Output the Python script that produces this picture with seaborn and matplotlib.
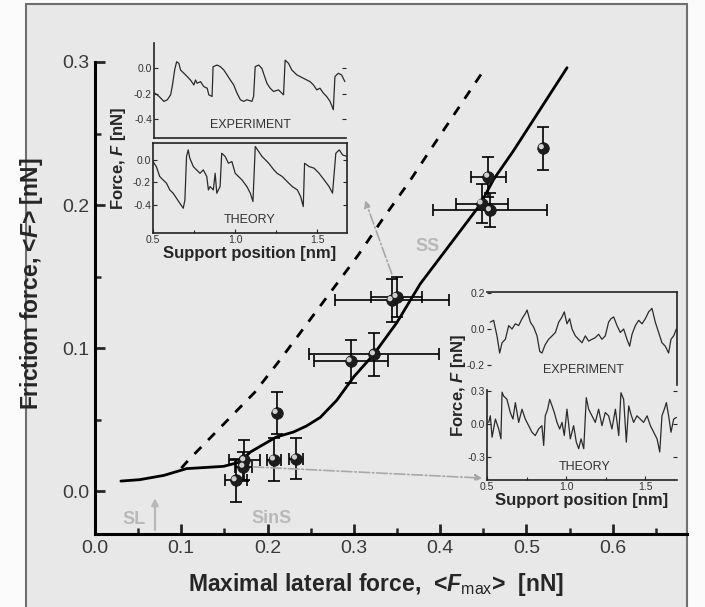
import numpy as np
import pandas as pd
import matplotlib
matplotlib.use("Agg")
import matplotlib.pyplot as plt
from matplotlib.patches import Rectangle
from matplotlib import transforms
import seaborn as sns

# ---------------- data ----------------
# measured friction points: maximal lateral force vs mean friction force (nN)
fmax = [0.163, 0.172, 0.173, 0.2075, 0.2105, 0.233, 0.2963, 0.3233, 0.3437, 0.3495, 0.448, 0.4577, 0.4557, 0.519]
ffric = [0.0075, 0.017, 0.0215, 0.022, 0.0546, 0.0227, 0.0907, 0.0956, 0.1334, 0.1357, 0.201, 0.1963, 0.2198, 0.2397]
fmax_err = [0.0126, 0.010, 0.018, 0.008, 0.0, 0.0085, 0.043, 0.075, 0.066, 0.030, 0.030, 0.066, 0.020, 0.0]
ffric_err = [0.015, 0.010, 0.014, 0.015, 0.015, 0.0145, 0.015, 0.015, 0.015, 0.014, 0.0135, 0.012, 0.014, 0.015]

# theory curve (solid)
theory_x = [0.03, 0.052, 0.08, 0.106, 0.149, 0.168, 0.18, 0.21, 0.23, 0.245, 0.261, 0.28, 0.30, 0.323, 0.35, 0.377,
            0.446, 0.462, 0.485, 0.547]
theory_y = [0.007, 0.008, 0.011, 0.0157, 0.0173, 0.0203, 0.0273, 0.0378, 0.0413, 0.0455, 0.0515, 0.0634, 0.080,
            0.0956, 0.118, 0.145, 0.200, 0.218, 0.238, 0.296]

# dashed reference curve
dashed_x = [0.100, 0.108, 0.140, 0.185, 0.214, 0.250, 0.305, 0.332, 0.365, 0.388, 0.448]
dashed_y = [0.016, 0.0215, 0.0412, 0.069, 0.0914, 0.1205, 0.165, 0.189, 0.217, 0.238, 0.292]

# stick-slip traces (support position nm, force nN)
ss_exp_x = [0.506, 0.531, 0.561, 0.582, 0.602, 0.612, 0.627, 0.639, 0.653, 0.663, 0.684, 0.704, 0.724, 0.745,
            0.755, 0.765, 0.786, 0.806, 0.827, 0.837, 0.857, 0.863, 0.888, 0.908, 0.929, 0.949, 0.969, 0.990,
            1.010, 1.031, 1.051, 1.071, 1.102, 1.112, 1.122, 1.143, 1.163, 1.173, 1.194, 1.214, 1.235, 1.265,
            1.296, 1.306, 1.327, 1.347, 1.378, 1.398, 1.439, 1.459, 1.480, 1.500, 1.520, 1.541, 1.561, 1.582,
            1.602, 1.612, 1.633, 1.653, 1.673]
ss_exp_y = [-0.196, -0.222, -0.261, -0.248, -0.209, -0.144, -0.013, 0.052, 0.039, -0.013, -0.039, -0.065, -0.092,
            -0.131, -0.092, -0.118, -0.105, -0.144, -0.157, -0.209, -0.222, 0.013, 0.026, 0.013, -0.013, -0.052,
            -0.092, -0.131, -0.196, -0.248, -0.261, -0.248, -0.261, -0.222, 0.013, 0.026, 0.000, -0.039, -0.118,
            -0.157, -0.183, -0.170, -0.209, 0.065, 0.039, -0.013, -0.052, -0.065, -0.092, -0.105, -0.131, -0.170,
            -0.157, -0.196, -0.222, -0.261, -0.327, -0.065, -0.039, -0.052, -0.105]
ss_th_x = [0.500, 0.520, 0.541, 0.561, 0.582, 0.602, 0.622, 0.643, 0.663, 0.684, 0.694, 0.704, 0.714, 0.724,
           0.745, 0.765, 0.786, 0.806, 0.827, 0.837, 0.847, 0.867, 0.878, 0.888, 0.908, 0.918, 0.939, 0.959,
           0.980, 1.000, 1.020, 1.041, 1.071, 1.092, 1.108, 1.122, 1.143, 1.163, 1.184, 1.204, 1.235, 1.255,
           1.286, 1.316, 1.347, 1.378, 1.398, 1.414, 1.422, 1.449, 1.480, 1.510, 1.541, 1.571, 1.592, 1.612,
           1.633, 1.653, 1.680]
ss_th_y = [-0.015, -0.059, -0.148, -0.178, -0.207, -0.267, -0.296, -0.341, -0.385, -0.430, -0.356, 0.030, 0.089,
           0.015, -0.059, -0.089, -0.119, -0.089, -0.148, -0.267, -0.237, -0.267, -0.119, -0.296, -0.237, 0.059,
           0.030, -0.030, -0.015, -0.119, -0.148, -0.178, -0.237, -0.296, -0.370, 0.119, 0.074, 0.030, 0.000,
           -0.030, -0.089, -0.119, -0.148, -0.193, -0.237, -0.267, -0.326, -0.415, -0.030, -0.059, -0.074,
           -0.119, -0.178, -0.237, -0.296, 0.059, 0.089, 0.044, 0.030]

# smooth-sliding traces
sm_exp_x = [0.521, 0.542, 0.563, 0.580, 0.595, 0.616, 0.637, 0.658, 0.679, 0.700, 0.721, 0.742, 0.753, 0.774,
            0.795, 0.816, 0.833, 0.847, 0.868, 0.889, 0.911, 0.932, 0.953, 0.974, 0.988, 1.005, 1.022, 1.037,
            1.058, 1.079, 1.100, 1.121, 1.142, 1.163, 1.184, 1.205, 1.226, 1.247, 1.268, 1.283, 1.300, 1.321,
            1.342, 1.363, 1.384, 1.401, 1.416, 1.437, 1.458, 1.479, 1.500, 1.521, 1.542, 1.563, 1.584, 1.605,
            1.626, 1.647, 1.662, 1.679, 1.696]
sm_exp_y = [0.038, 0.048, -0.038, -0.133, -0.076, -0.057, 0.019, 0.000, 0.029, 0.019, 0.057, 0.086, 0.105, 0.038,
            0.010, -0.038, -0.124, -0.133, -0.086, -0.057, -0.038, -0.019, 0.038, 0.067, 0.095, 0.029, 0.057,
            0.000, -0.038, -0.057, -0.076, -0.038, -0.067, -0.057, -0.048, -0.029, -0.057, -0.038, 0.038, 0.057,
            0.067, 0.019, -0.019, 0.000, -0.057, -0.095, -0.029, 0.019, 0.048, 0.029, 0.057, 0.095, 0.114, 0.038,
            -0.019, -0.076, -0.095, -0.133, -0.057, -0.038, 0.000]
sm_th_x = [0.511, 0.521, 0.532, 0.553, 0.574, 0.588, 0.595, 0.605, 0.626, 0.647, 0.664, 0.679, 0.700, 0.721,
           0.742, 0.763, 0.784, 0.805, 0.826, 0.847, 0.858, 0.868, 0.883, 0.896, 0.911, 0.925, 0.942, 0.959,
           0.974, 0.988, 1.005, 1.026, 1.047, 1.064, 1.079, 1.094, 1.111, 1.127, 1.142, 1.163, 1.184, 1.205,
           1.226, 1.247, 1.268, 1.289, 1.311, 1.332, 1.346, 1.363, 1.380, 1.395, 1.409, 1.426, 1.447, 1.468,
           1.489, 1.511, 1.532, 1.553, 1.574, 1.591, 1.605, 1.620, 1.633, 1.647, 1.662, 1.679, 1.696]
sm_th_y = [0.015, 0.075, -0.120, 0.045, -0.045, -0.135, 0.290, 0.255, 0.225, 0.105, 0.045, 0.195, 0.015, 0.135,
           0.045, -0.015, -0.075, -0.105, -0.045, -0.015, -0.195, 0.075, 0.135, 0.225, 0.165, 0.105, 0.015,
           -0.045, 0.015, -0.105, 0.135, -0.135, -0.015, -0.165, -0.225, -0.135, -0.225, 0.240, 0.135, 0.075,
           0.015, 0.135, -0.015, 0.105, 0.075, -0.045, 0.135, -0.105, 0.285, 0.225, -0.165, 0.165, 0.090, 0.015,
           0.075, 0.045, 0.015, 0.075, -0.015, -0.075, -0.135, -0.255, 0.075, 0.135, 0.195, 0.075, -0.075,
           0.045, 0.060]

# ---------------- style ----------------
sns.set_theme(style="ticks")
plt.rcParams["font.family"] = ["Liberation Sans", "DejaVu Sans"]
plt.rcParams["mathtext.fontset"] = "custom"
plt.rcParams["mathtext.rm"] = "Liberation Sans"
plt.rcParams["mathtext.it"] = "Liberation Sans:italic:bold"
plt.rcParams["mathtext.bf"] = "Liberation Sans:bold"

BG = "#e8e8e8"
TICK_C = "#3a3a3a"
GRAY_TXT = "#b8b8b8"

fig = plt.figure(figsize=(7.05, 6.07), dpi=100)
fig.patch.set_facecolor("#fbfbfb")
frame = Rectangle((26 / 705, -0.02), (687 - 26) / 705, 1.0134, transform=fig.transFigure,
                  facecolor=BG, edgecolor="#707070", linewidth=1.5, zorder=-10)
fig.patches.append(frame)

# ---------------- main axes ----------------
ax = fig.add_axes([95 / 705, 1 - 534 / 607, 592 / 705, 472 / 607])
ax.set_facecolor("none")
ax.set_xlim(0.0, 0.686)
ax.set_ylim(-0.030, 0.30)
for s in ["top", "right"]:
    ax.spines[s].set_visible(False)
for s in ["left", "bottom"]:
    ax.spines[s].set_linewidth(2.2)
    ax.spines[s].set_color("black")
ax.set_xticks([0.0, 0.1, 0.2, 0.3, 0.4, 0.5, 0.6])
ax.set_yticks([0.0, 0.1, 0.2, 0.3])
ax.set_xticklabels(["0.0", "0.1", "0.2", "0.3", "0.4", "0.5", "0.6"])
ax.set_yticklabels(["0.0", "0.1", "0.2", "0.3"])
ax.set_xticks(np.arange(0.05, 0.686, 0.1), minor=True)
ax.set_yticks([0.05, 0.15, 0.25], minor=True)
ax.tick_params(which="major", direction="in", length=7, width=2, labelsize=14, labelcolor=TICK_C, pad=4)
ax.tick_params(which="minor", direction="in", length=4, width=1.8)

ax.set_xlabel(r"Maximal lateral force,  <$F_{\mathrm{max}}$>  [nN]", fontsize=16.5, fontweight="bold")
ax.set_ylabel(r"Friction force, <$F$> [nN]", fontsize=16.5, fontweight="bold")
ax.xaxis.set_label_coords(0.4755, -0.078)
ax.yaxis.set_label_coords(-0.085, 0.53)

sns.lineplot(x=dashed_x, y=dashed_y, ax=ax, color="black", lw=2.0, sort=False, estimator=None,
             linestyle=(0, (3.5, 3.5)))
sns.lineplot(x=theory_x, y=theory_y, ax=ax, color="black", lw=2.0, sort=False, estimator=None)

ax.errorbar(fmax, ffric, xerr=fmax_err, yerr=ffric_err, fmt="none", ecolor="black",
            elinewidth=1.2, capsize=4, capthick=1.2, zorder=3)
pts = pd.DataFrame({"fmax": fmax, "ffric": ffric})
sns.scatterplot(data=pts, x="fmax", y="ffric", ax=ax, s=70, color="#1c1c1c", edgecolor="#111111",
                linewidth=0.5, zorder=4)
hl = transforms.offset_copy(ax.transData, fig=fig, x=-1.6, y=1.6, units="dots")
sns.scatterplot(data=pts, x="fmax", y="ffric", ax=ax, s=14, color="#cfcfcf", edgecolor="none",
                linewidth=0, zorder=5, transform=hl)

# regime labels
ax.text(0.045, -0.020, "SL", color=GRAY_TXT, fontsize=13, fontweight="bold", ha="center", va="center")
ax.annotate("", xy=(0.0695, -0.003), xytext=(0.0695, -0.029),
            arrowprops=dict(arrowstyle="-|>", color=GRAY_TXT, lw=1.6, mutation_scale=10))
ax.text(0.205, -0.019, "SinS", color=GRAY_TXT, fontsize=13, fontweight="bold", ha="center", va="center")
ax.text(0.385, 0.171, "SS", color=GRAY_TXT, fontsize=13, fontweight="bold", ha="center", va="center")

# dash-dot pointers to the insets
ax.annotate("", xy=(0.312, 0.205), xytext=(0.345, 0.150),
            arrowprops=dict(arrowstyle="-|>", color="#a8a8a8", lw=1.2, linestyle="-.", mutation_scale=10))
ax.annotate("", xy=(0.452, 0.009), xytext=(0.18, 0.017),
            arrowprops=dict(arrowstyle="-|>", color="#a8a8a8", lw=1.2, linestyle="-.", mutation_scale=10))


def inset(rect, xlim, ylim, yticks):
    a = fig.add_axes(rect)
    a.set_facecolor("none")
    a.set_xlim(*xlim)
    a.set_ylim(*ylim)
    a.set_yticks(yticks)
    a.set_yticklabels([f"{v:.1f}" for v in yticks])
    a.tick_params(direction="in", length=3, width=0.8, labelsize=7.5, labelcolor="#333333", pad=1.5)
    for s in a.spines.values():
        s.set_linewidth(1.2)
        s.set_color("#222222")
    return a


TRACE = dict(color="#2a2a2a", lw=0.9, sort=False, estimator=None)

# ---------------- stick-slip inset (upper left) ----------------
a1 = inset([154 / 705, 1 - 138 / 607, 192 / 705, 95 / 607], (0.5, 1.68), (-0.55, 0.2), [0.0, -0.2, -0.4])
a1.spines["top"].set_visible(False)
a1.spines["right"].set_visible(False)
a1.set_xticks([])
a1.tick_params(axis="y", right=True)
sns.lineplot(x=ss_exp_x, y=ss_exp_y, ax=a1, **TRACE)
a1.text(0.5, 0.14, "EXPERIMENT", transform=a1.transAxes, ha="center", va="center", fontsize=9, color="#333333")

a2 = inset([153 / 705, 1 - 233 / 607, 194 / 705, 90 / 607], (0.5, 1.68), (-0.65, 0.15), [0.0, -0.2, -0.4])
a2.set_xticks([0.5, 1.0, 1.5])
a2.set_xticklabels(["0.5", "1.0", "1.5"])
a2.set_xticks([0.75, 1.25], minor=True)
a2.tick_params(which="minor", direction="in", length=2, width=0.8)
a2.tick_params(axis="y", right=True)
sns.lineplot(x=ss_th_x, y=ss_th_y, ax=a2, **TRACE)
a2.text(0.5, 0.14, "THEORY", transform=a2.transAxes, ha="center", va="center", fontsize=9, color="#333333")
a2.set_xlabel("Support position [nm]", fontsize=12, fontweight="bold", labelpad=1)
fig.text(118 / 705, 1 - 158 / 607, r"Force, $F$ [nN]", rotation=90, ha="center", va="center",
         fontsize=12, fontweight="bold")

# ---------------- smooth-sliding inset (lower right) ----------------
b1 = inset([487 / 705, 1 - 385 / 607, 190 / 705, 93 / 607], (0.5, 1.7), (-0.31, 0.205), [0.2, 0.0, -0.2])
b1.spines["bottom"].set_visible(False)
b1.spines["left"].set_visible(False)
b1.set_xticks([])
sns.lineplot(x=sm_exp_x, y=sm_exp_y, ax=b1, **TRACE)
b1.text(0.505, 0.16, "EXPERIMENT", transform=b1.transAxes, ha="center", va="center", fontsize=9, color="#333333")

b2 = inset([487 / 705, 1 - 480 / 607, 190 / 705, 90 / 607], (0.5, 1.7), (-0.51, 0.31), [0.3, 0.0, -0.3])
b2.spines["top"].set_visible(False)
b2.spines["right"].set_visible(False)
b2.set_xticks([0.5, 1.0, 1.5])
b2.set_xticklabels(["0.5", "1.0", "1.5"])
b2.set_xticks([0.75, 1.25], minor=True)
b2.tick_params(which="minor", direction="in", length=2, width=0.8)
b2.tick_params(axis="y", right=True)
sns.lineplot(x=sm_th_x, y=sm_th_y, ax=b2, **TRACE)
b2.text(0.516, 0.144, "THEORY", transform=b2.transAxes, ha="center", va="center", fontsize=9, color="#333333")
b2.set_xlabel("Support position [nm]", fontsize=12, fontweight="bold", labelpad=1)
fig.text(458 / 705, 1 - 385 / 607, r"Force, $F$ [nN]", rotation=90, ha="center", va="center",
         fontsize=12, fontweight="bold")

for a in (ax, a1, a2, b1, b2):
    leg = a.get_legend()
    if leg is not None:
        leg.remove()

fig.savefig("out.png", dpi=100)
